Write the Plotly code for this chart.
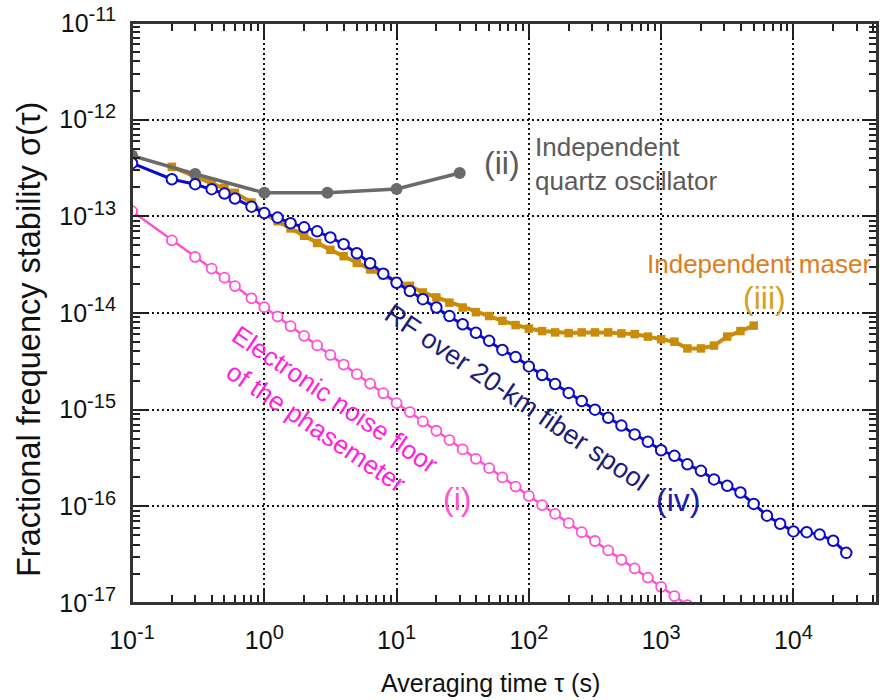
import plotly.graph_objects as go

# ---------------- data ----------------
tau_quartz = [0.1, 0.3, 1, 3, 10, 30]
sig_quartz = [4.25e-13, 2.74e-13, 1.75e-13, 1.75e-13, 1.92e-13, 2.81e-13]

tau_fiber = [0.1, 0.2, 0.3, 0.4, 0.5, 0.6, 0.8,
             1, 1.26, 1.58, 2, 2.51, 3.16, 3.98, 5.01, 6.31, 7.94,
             10, 12.6, 15.8, 20, 25.1, 31.6, 39.8, 50.1, 63.1, 79.4,
             100, 126, 158, 200, 251, 316, 398, 501, 631, 794,
             1000, 1260, 1580, 2000, 2510, 3160, 3980, 5010, 6310, 7940,
             10000, 12600, 15800, 20000, 25100]
sig_fiber = [3.55e-13, 2.42e-13, 2.15e-13, 1.91e-13, 1.72e-13, 1.53e-13, 1.26e-13,
             1.08e-13, 9.7e-14, 8.5e-14, 7.7e-14, 7.0e-14, 6.05e-14, 5.15e-14, 4.15e-14, 3.27e-14, 2.55e-14,
             2.05e-14, 1.69e-14, 1.39e-14, 1.14e-14, 9.3e-15, 7.65e-15, 6.25e-15, 5.15e-15, 4.15e-15, 3.5e-15,
             2.8e-15, 2.28e-15, 1.84e-15, 1.49e-15, 1.23e-15, 1.0e-15, 8.25e-16, 6.85e-16, 5.55e-16, 4.65e-16,
             3.8e-16, 3.33e-16, 2.72e-16, 2.33e-16, 1.9e-16, 1.63e-16, 1.39e-16, 1.06e-16, 8.0e-17, 6.6e-17,
             5.5e-17, 5.4e-17, 5.1e-17, 4.4e-17, 3.3e-17]

tau_floor = [0.1, 0.2, 0.3, 0.4, 0.5, 0.6, 0.8,
             1, 1.26, 1.58, 2, 2.51, 3.16, 3.98, 5.01, 6.31, 7.94,
             10, 12.6, 15.8, 20, 25.1, 31.6, 39.8, 50.1, 63.1, 79.4,
             100, 126, 158, 200, 251, 316, 398, 501, 631, 794,
             1000, 1260, 1580]
sig_floor = [1.13e-13, 5.65e-14, 3.8e-14, 2.88e-14, 2.32e-14, 1.9e-14, 1.42e-14,
             1.15e-14, 9.2e-15, 7.3e-15, 5.8e-15, 4.62e-15, 3.68e-15, 2.93e-15, 2.33e-15, 1.86e-15, 1.48e-15,
             1.17e-15, 9.45e-16, 7.55e-16, 6.05e-16, 4.85e-16, 3.88e-16, 3.1e-16, 2.48e-16, 1.99e-16, 1.6e-16,
             1.28e-16, 1.03e-16, 8.35e-17, 6.7e-17, 5.4e-17, 4.38e-17, 3.5e-17, 2.8e-17, 2.28e-17, 1.83e-17,
             1.47e-17, 1.18e-17, 9.5e-18]

tau_maser = [0.2, 0.3, 0.4, 0.5, 0.6, 0.8,
             1, 1.26, 1.58, 2, 2.51, 3.16, 3.98, 5.01, 6.31, 7.94,
             10, 12.6, 15.8, 20, 25.1, 31.6, 39.8, 50.1, 63.1, 79.4,
             100, 126, 158, 200, 251, 316, 398, 501, 631, 794,
             1000, 1260, 1580, 2000, 2510, 3160, 3980, 5010]
sig_maser = [3.25e-13, 2.58e-13, 2.2e-13, 1.97e-13, 1.75e-13, 1.39e-13,
             1.07e-13, 8.9e-14, 7.5e-14, 6.3e-14, 5.3e-14, 4.5e-14, 3.87e-14, 3.3e-14, 2.82e-14, 2.45e-14,
             2.14e-14, 1.91e-14, 1.63e-14, 1.45e-14, 1.28e-14, 1.14e-14, 1.02e-14, 9.3e-15, 8.3e-15, 7.5e-15,
             6.9e-15, 6.5e-15, 6.3e-15, 6.2e-15, 6.3e-15, 6.3e-15, 6.3e-15, 6.15e-15, 6.05e-15, 5.7e-15,
             5.35e-15, 5.05e-15, 4.3e-15, 4.3e-15, 4.6e-15, 5.7e-15, 6.5e-15, 7.4e-15]

SUP = "<sup><span style='font-size:20px'>{}</span></sup>"
x_tickvals = [0.1, 1, 10, 100, 1000, 10000]
x_tickexp = ["-1", "0", "1", "2", "3", "4"]
x_ticktext = ["10" + SUP.format(e) for e in x_tickexp]
y_tickvals = [1e-17, 1e-16, 1e-15, 1e-14, 1e-13, 1e-12, 1e-11]
y_tickexp = ["-17", "-16", "-15", "-14", "-13", "-12", "-11"]
y_ticktext = ["10" + SUP.format(e) for e in y_tickexp]
x_minor = [m * d for d in [0.1, 1, 10, 100, 1000, 10000] for m in range(2, 10)]
y_minor = [m * d for d in [1e-17, 1e-16, 1e-15, 1e-14, 1e-13, 1e-12] for m in range(2, 10)]

# ---------------- colours ----------------
C_GRAY = "#6a6a6a"
C_BLUE = "#0a0ac8"
C_PINK = "#ff50d0"
C_ORANGE = "#c98c0a"

FONT = "Liberation Sans, Arial, sans-serif"

fig = go.Figure()

fig.add_trace(go.Scatter(
    x=tau_maser, y=sig_maser, mode="lines+markers",
    line=dict(color=C_ORANGE, width=4),
    marker=dict(symbol="square", size=8.5, color=C_ORANGE, line=dict(width=0)),
))
fig.add_trace(go.Scatter(
    x=tau_quartz, y=sig_quartz, mode="lines+markers",
    line=dict(color=C_GRAY, width=3.5),
    marker=dict(symbol="circle", size=12, color=C_GRAY, line=dict(width=0)),
))
fig.add_trace(go.Scatter(
    x=tau_floor, y=sig_floor, mode="lines+markers",
    line=dict(color=C_PINK, width=2.5),
    marker=dict(symbol="circle", size=10, color="white", line=dict(color=C_PINK, width=1.8)),
))
fig.add_trace(go.Scatter(
    x=tau_fiber, y=sig_fiber, mode="lines+markers",
    line=dict(color=C_BLUE, width=3),
    marker=dict(symbol="circle", size=10.5, color="white", line=dict(color=C_BLUE, width=2)),
))

axis_common = dict(
    type="log", showline=True, linewidth=2, linecolor="#333333", mirror="ticks",
    ticks="inside", ticklen=15, tickwidth=2, tickcolor="#222222",
    showgrid=True, gridcolor="#111111", gridwidth=1.5, griddash="2px,3px",
    tickmode="array", tickfont=dict(family=FONT, size=25, color="#111111"),
    zeroline=False, automargin=False, ticklabeloverflow="allow",
)

fig.update_xaxes(
    **axis_common, range=[-1.0001, 4.632], tickvals=x_tickvals, ticktext=x_ticktext,
    ticklabelstandoff=14,
    minor=dict(tickmode="array", tickvals=x_minor, ticks="inside", ticklen=8,
               tickwidth=1.5, tickcolor="#222222", showgrid=False),
)
fig.update_yaxes(
    **axis_common, range=[-17.0001, -10.9999], tickvals=y_tickvals, ticktext=y_ticktext,
    ticklabelstandoff=9,
    minor=dict(tickmode="array", tickvals=y_minor, ticks="inside", ticklen=8,
               tickwidth=1.5, tickcolor="#222222", showgrid=False),
)

annotations = [
    dict(x=1.799, y=-12.445, text="(ii)", font=dict(size=32, color="#5a5a5a"),
         xanchor="center", yanchor="middle"),
    dict(x=2.033, y=-12.455, text="Independent<br>quartz oscillator",
         font=dict(size=26, color="#5a5a5a"), xanchor="left", yanchor="middle", align="left"),
    dict(x=4.603, y=-13.49, text="Independent maser", font=dict(size=26, color="#dd7d1e"),
         xanchor="right", yanchor="middle"),
    dict(x=3.779, y=-13.841, text="(iii)", font=dict(size=32, color="#d6a028"),
         xanchor="center", yanchor="middle"),
    dict(x=3.129, y=-15.93, text="(iv)", font=dict(size=32, color="#1c1ca8"),
         xanchor="center", yanchor="middle"),
    dict(x=1.459, y=-15.926, text="(i)", font=dict(size=32, color="#ff55cc"),
         xanchor="center", yanchor="middle"),
    dict(x=1.909, y=-14.88, text="RF over 20-km fiber spool", textangle=34,
         font=dict(size=27, color="#1c1c7c"), xanchor="center", yanchor="middle"),
    dict(x=0.469, y=-15.04, text="Electronic noise floor<br>of the phasemeter", textangle=34,
         font=dict(size=26, color="#ff22dd"), xanchor="center", yanchor="middle", align="center"),
]
for a in annotations:
    a.update(xref="x", yref="y", showarrow=False)
    a["font"]["family"] = FONT

annotations.append(dict(
    xref="paper", yref="paper", x=(490 - 132) / 745, y=-(683 - 603) / 580,
    text="Averaging time \u03c4 (s)", showarrow=False, xanchor="center", yanchor="middle",
    font=dict(family=FONT, size=25, color="#111111")))
annotations.append(dict(
    xref="paper", yref="paper", x=-(132 - 29) / 745, y=(603 - 340) / 580,
    text="Fractional frequency stability \u03c3(\u03c4)", showarrow=False, textangle=-90,
    xanchor="center", yanchor="middle",
    font=dict(family=FONT, size=32.5, color="#111111")))

# plot area at x 132..877 and y 23..603 of the 880x700 window
fig.update_layout(
    width=880, height=700,
    margin=dict(l=132, r=3, t=23, b=97),
    plot_bgcolor="white", paper_bgcolor="white",
    showlegend=False,
    font=dict(family=FONT),
    annotations=annotations,
    shapes=[dict(type="rect", xref="paper", yref="paper", x0=0, x1=1, y0=0, y1=1,
                 line=dict(color="#333333", width=2), layer="above")],
)

# remove the browser's default 8 px body margin so the figure fills the window exactly
fig.write_html(
    "out.html",
    config={"displayModeBar": False},
    post_script="document.body.style.margin='0';document.body.style.overflow='hidden';",
)
